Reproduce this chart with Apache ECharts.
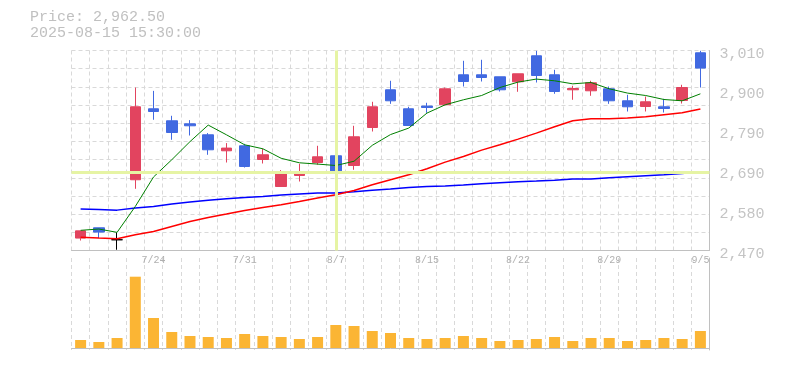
<!DOCTYPE html>
<html>
<head>
<meta charset="utf-8">
<script src="https://cdn.jsdelivr.net/npm/echarts@6/dist/echarts.min.js"></script>
<style>html,body{margin:0;padding:0;background:#fff}#c{width:785px;height:370px}</style>
</head>
<body>
<div id="c"></div>
<script>
const dates = ['7/17','7/18','7/22','7/23','7/24','7/25','7/28','7/29','7/30','7/31','8/1','8/4','8/5','8/6','8/7','8/8','8/12','8/13','8/14','8/15','8/18','8/19','8/20','8/21','8/22','8/25','8/26','8/27','8/28','8/29','9/1','9/2','9/3','9/4','9/5'];
const openP  = [2503.5,2531.3,2499,2661,2852.6,2820.2,2812,2782.4,2739.2,2752.7,2715.7,2642.8,2672.5,2707.6,2725.7,2699.5,2802.1,2903.9,2852.6,2859.9,2863.4,2944.4,2944.4,2939,2925.5,2995.7,2944.4,2903.9,2901.2,2906.6,2874.2,2858.8,2858,2875,3003.8];
const closeP = [2523,2519.7,2499,2858,2845.3,2788.6,2806.7,2741.9,2746.5,2696.8,2728.4,2677.1,2682.5,2723,2680.6,2777,2858,2874.2,2807.5,2856.1,2906.6,2926.3,2937.1,2903.9,2947.1,2942.5,2899.3,2907.4,2922.8,2874.2,2858,2871.5,2853.4,2910.1,2962.5];
const lowP   = [2497,2503.5,2472,2636.6,2823,2768.9,2780.5,2728.4,2707.6,2694,2704.9,2642.8,2656.3,2701.4,2656.3,2687.9,2791.3,2866,2807.5,2841.8,2863.4,2912.8,2926.3,2899.3,2898.5,2923.6,2893.1,2876.9,2887.7,2866,2845.3,2845.3,2842.6,2866.9,2910.1];
const highP  = [2523,2531.3,2518.6,2910,2901,2833.7,2822,2787,2760,2758,2744.6,2687,2704,2752.7,2744.6,2806.7,2871.5,2928.2,2858,2868.8,2910,2982.2,2984.9,2939,2947.1,3009,2957.9,2914.7,2928.2,2912.8,2890.4,2885.8,2879.6,2917.4,3009.2];
const volume = [80,60,100,713,300,160,120,110,100,140,120,110,90,110,230,220,170,150,100,90,100,120,100,70,80,90,110,70,100,100,70,80,100,90,170];
const maShort = [2524.5,2528,2519,2589,2668.5,2715,2764,2808.6,2782.4,2755.4,2744.6,2719,2706.8,2703.3,2699.5,2711,2754,2783,2800.5,2841,2863.4,2876.9,2888.5,2910,2924.7,2932.8,2928.2,2920,2923.6,2906.6,2895,2888.5,2877.7,2874.2,2893];
const maMid = [2506,2503.5,2501.6,2512.4,2521.3,2535,2548.3,2559,2568.3,2578,2586,2593.4,2602.3,2611.5,2620.4,2632,2647.4,2661,2674.4,2690.6,2708.7,2723.8,2741,2755.4,2770.8,2787,2804,2820.2,2825.6,2825.6,2827.5,2831,2836.4,2841.8,2851.8];
const maLong = [2581.8,2580.7,2579,2584.5,2588.8,2595.3,2600.7,2606,2609.6,2613,2615.8,2619.6,2622.3,2625,2625,2628.5,2633,2635.8,2640,2642.8,2643.9,2646.6,2650,2652.8,2655.5,2657.4,2660,2662.8,2662.8,2666.3,2669,2671.7,2674.4,2678,2682.5];
const priceTickValues = [2470,2578,2686,2794,2902,3010];
const priceTickLabels = ['2,470','2,580','2,690','2,790','2,900','3,010'];
const headerPrice = 'Price: 2,962.50';
const headerTime = '2025-08-15 15:30:00';
const crossIndex = 14;

const UP = '#e2445f', DOWN = '#4169e1';
const candleData = dates.map((d, i) => {
  const item = { value: [openP[i], closeP[i], lowP[i], highP[i]] };
  if (openP[i] === closeP[i]) item.itemStyle = { color: '#000', borderColor: '#000', color0: '#000', borderColor0: '#000' };
  return item;
});
const gridLine = { show: true, lineStyle: { color: '#d9d9d9', type: [4, 3], width: 1 } };
const axisLineStyle = { show: true, lineStyle: { color: '#c0c0c0', width: 1 } };
const mono = '"Liberation Mono", "DejaVu Sans Mono", monospace';

const chart = echarts.init(document.getElementById('c'), null, { renderer: 'canvas' });
chart.setOption({
  animation: false,
  backgroundColor: '#fff',
  graphic: [
    { type: 'text', left: 30, top: 10, style: { text: headerPrice, font: '15px ' + mono, fill: '#c0c0c0' } },
    { type: 'text', left: 30, top: 25.5, style: { text: headerTime, font: '15px ' + mono, fill: '#c0c0c0' } }
  ],
  grid: [
    { left: 71.5, right: 75.5, top: 50.5, height: 200 },
    { left: 71.5, right: 75.5, top: 258, height: 92 }
  ],
  xAxis: [
    { type: 'category', gridIndex: 0, data: dates, boundaryGap: true,
      axisLine: axisLineStyle, axisTick: { show: false },
      axisLabel: { interval: (i) => i % 5 === 4, color: '#b0b0b0', fontFamily: mono, fontSize: 10, margin: 5 },
      splitLine: Object.assign({ interval: 0 }, gridLine) },
    { type: 'category', gridIndex: 1, data: dates, boundaryGap: true,
      axisLine: axisLineStyle, axisTick: { show: false }, axisLabel: { show: false },
      splitLine: Object.assign({ interval: 0 }, gridLine) }
  ],
  yAxis: [
    { type: 'value', gridIndex: 0, position: 'right', min: 2470, max: 3010, scale: true,
      axisLine: axisLineStyle, axisTick: { show: false }, splitLine: { show: false },
      axisLabel: { customValues: priceTickValues, color: '#c4c4c4', fontFamily: mono, fontSize: 15, margin: 10,
        verticalAlign: 'top', lineHeight: 7,
        formatter: (v) => { let k = 0, b = Infinity; priceTickValues.forEach((t, j) => { if (Math.abs(t - v) < b) { b = Math.abs(t - v); k = j; } }); return priceTickLabels[k]; } } },
    { type: 'value', gridIndex: 0, position: 'left', min: 0, max: 11, interval: 1,
      axisLine: { show: false }, axisTick: { show: false }, axisLabel: { show: false }, splitLine: gridLine },
    { type: 'value', gridIndex: 1, position: 'right', min: -20, max: 900,
      axisLine: axisLineStyle, axisTick: { show: false }, axisLabel: { show: false }, splitLine: { show: false } }
  ],
  series: [
    { type: 'line', xAxisIndex: 0, yAxisIndex: 0, data: [], z: 1, silent: true,
      markLine: { silent: true, symbol: 'none', label: { show: false },
        lineStyle: { color: '#e6f4a4', width: 3, type: 'solid' },
        data: [{ xAxis: dates[crossIndex] }, { yAxis: closeP[crossIndex] }] } },
    { type: 'candlestick', xAxisIndex: 0, yAxisIndex: 0, data: candleData, barWidth: 11, z: 3,
      itemStyle: { color: UP, color0: DOWN, borderColor: UP, borderColor0: DOWN, borderWidth: 1 } },
    { type: 'line', xAxisIndex: 0, yAxisIndex: 0, data: maLong, symbol: 'none', z: 4, lineStyle: { color: '#0000ff', width: 1.5 } },
    { type: 'line', xAxisIndex: 0, yAxisIndex: 0, data: maMid, symbol: 'none', z: 4, lineStyle: { color: '#ff0000', width: 1.5 } },
    { type: 'line', xAxisIndex: 0, yAxisIndex: 0, data: maShort, symbol: 'none', z: 4, lineStyle: { color: '#008000', width: 1 } },
    { type: 'bar', xAxisIndex: 1, yAxisIndex: 2, data: volume, barWidth: 11, itemStyle: { color: '#fbb534' } }
  ]
});
</script>
</body>
</html>
